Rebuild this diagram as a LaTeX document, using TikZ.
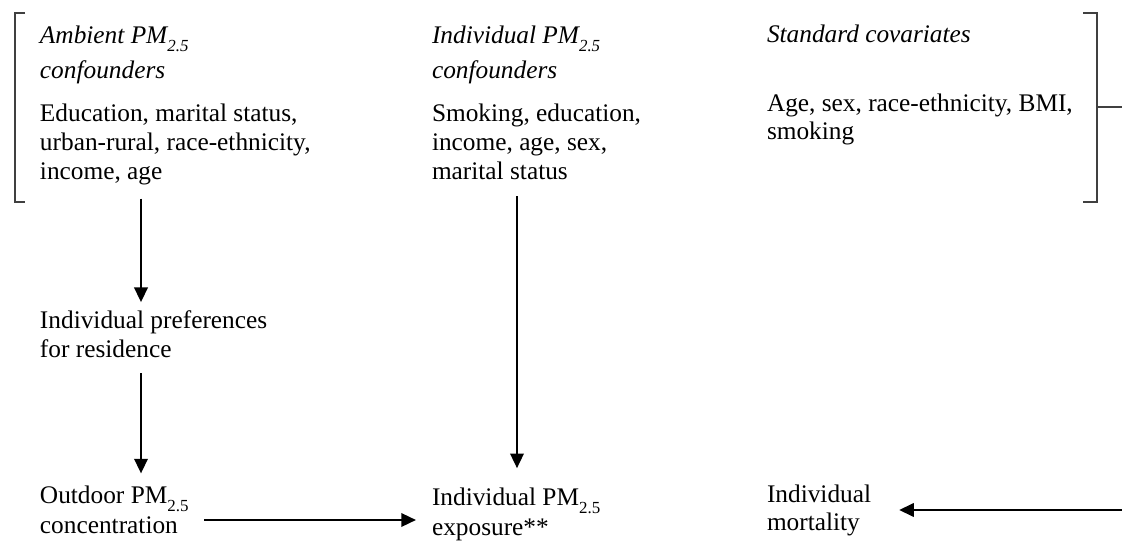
\documentclass[tikz,border=0pt]{standalone}
\usepackage{fontspec}
\setmainfont{Liberation Serif}
\usetikzlibrary{arrows.meta}
\newcommand\sbs[1]{\raisebox{-6pt}{\fontsize{12.7}{12.7}\selectfont #1}}
\newcommand\lns[2]{\vtop{\baselineskip=#1\lineskiplimit=-50pt\lineskip=0pt #2}}
\tikzset{
  txt/.style={inner sep=0pt, outer sep=0pt, anchor=base west, font=\fontsize{19}{22}\selectfont},
  arr/.style={line width=1.8pt, -{Triangle[length=11pt,width=10pt]}},
  brk/.style={line width=1.1pt, draw=black!75},
}
\begin{document}
\begin{tikzpicture}[x=0.75pt,y=-0.75pt]
\useasboundingbox (0,0) rectangle (1122,542);
% text blocks
\node[txt] (ambH) at (40,44) {\itshape\lns{26.25pt}{\hbox{Ambient PM\sbs{2.5}}\hbox{confounders}}};
\node[txt] (ambB) at (40,122) {\lns{21.75pt}{\hbox{Education, marital status,}\hbox{urban-rural, race-ethnicity,}\hbox{income, age}}};
\node[txt] (indH) at (432,44) {\itshape\lns{26.25pt}{\hbox{Individual PM\sbs{2.5}}\hbox{confounders}}};
\node[txt] (indB) at (432,122) {\lns{21.75pt}{\hbox{Smoking, education,}\hbox{income, age, sex,}\hbox{marital status}}};
\node[txt] (stdH) at (767,43) {\itshape Standard covariates};
\node[txt] (stdB) at (767,112) {\lns{20.5pt}{\hbox{Age, sex, race-ethnicity, BMI,}\hbox{smoking}}};
\node[txt] (pref) at (40,328) {\lns{21.75pt}{\hbox{Individual preferences}\hbox{for residence}}};
\node[txt] (outd) at (40,503) {\lns{22.5pt}{\hbox{Outdoor PM\sbs{2.5}}\hbox{concentration}}};
\node[txt] (expo) at (432,505) {\lns{22.5pt}{\hbox{Individual PM\sbs{2.5}}\hbox{exposure**}}};
\node[txt] (mort) at (767,502) {\lns{21pt}{\hbox{Individual}\hbox{mortality}}};
% helper coordinates
\coordinate (c1) at (141,0);
\coordinate (c2) at (517,0);
\coordinate (h1) at (0,520);
\coordinate (h2) at (0,510);
\coordinate (rEnd) at (1122,510);
\coordinate (lbT) at (25,13);
\coordinate (lbB) at (25,202);
\coordinate (rbT) at (1083,13);
\coordinate (rbB) at (1083,202);
\coordinate (rbM) at (1097,107);
\coordinate (rTick) at (1122,107);
% brackets
\draw[brk] (lbT) -- ++(-10,0) |- (lbB);
\draw[brk] (rbT) -- ++(14,0) |- (rbB);
\draw[brk] (rbM) -- (rTick);
% arrows
\draw[arr, shorten <=9.9pt, shorten >=6pt] (ambB.south -| c1) -- (pref.north -| c1);
\draw[arr, shorten <=12pt, shorten >=9pt] (pref.south -| c1) -- (outd.north -| c1);
\draw[arr, shorten <=12pt, shorten >=14.4pt] (indB.south -| c2) -- (expo.north -| c2);
\draw[arr, shorten <=11.6pt, shorten >=12pt] (outd.east |- h1) -- (expo.west |- h1);
\draw[arr, shorten >=21pt] (rEnd) -- (mort.east |- h2);
\end{tikzpicture}
\end{document}
